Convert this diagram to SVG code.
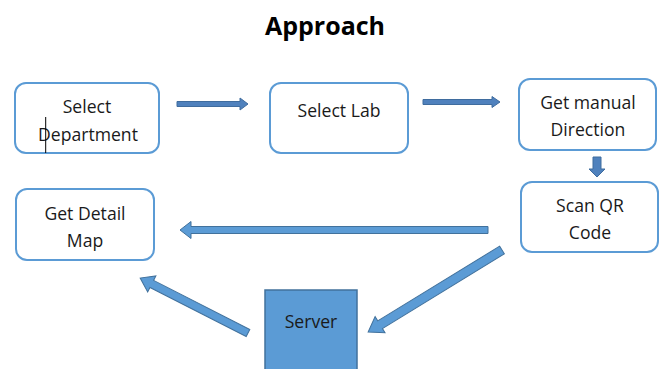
<svg xmlns="http://www.w3.org/2000/svg" width="665" height="369" viewBox="0 0 665 369">
  <style>
    .box { fill: #ffffff; stroke: #5b9bd5; stroke-width: 2; }
    .label { font-family: "Open Sans", "Liberation Sans", sans-serif; font-size: 17.6px; fill: #1a1a1a; text-anchor: middle; }
    .title { font-family: "Open Sans", "Liberation Sans", sans-serif; font-size: 25px; font-weight: bold; fill: #000000; text-anchor: middle; }
    .arrow-dark { fill: #4f81bd; stroke: #3f6c9e; stroke-width: 1; }
    .arrow-light { fill: #5b9bd5; stroke: #41719c; stroke-width: 1; }
    .server { fill: #5b9bd5; stroke: #41719c; stroke-width: 1.5; }
  </style>
  <rect width="665" height="369" fill="#ffffff"/>

  <text class="title" x="325" y="35">Approach</text>

  <g id="select-department">
    <rect class="box" x="15" y="83" width="144" height="70" rx="11"/>
    <text class="label" x="87" y="113">Select</text>
    <text class="label" x="88" y="141">Department</text>
    <line x1="45.7" y1="117" x2="45.7" y2="153" stroke="#000" stroke-width="1"/>
  </g>

  <g id="select-lab">
    <rect class="box" x="270" y="83" width="138" height="70" rx="11"/>
    <text class="label" x="339" y="117">Select Lab</text>
  </g>

  <g id="get-manual-direction">
    <rect class="box" x="519" y="79" width="137" height="71" rx="11"/>
    <text class="label" x="588" y="109">Get manual</text>
    <text class="label" x="588" y="136">Direction</text>
  </g>

  <g id="scan-qr-code">
    <rect class="box" x="521" y="182" width="137" height="70" rx="11"/>
    <text class="label" x="590" y="212">Scan QR</text>
    <text class="label" x="590" y="239">Code</text>
  </g>

  <g id="get-detail-map">
    <rect class="box" x="16" y="189" width="138" height="71" rx="11"/>
    <text class="label" x="85" y="220">Get Detail</text>
    <text class="label" x="85" y="247">Map</text>
  </g>

  <g id="server">
    <rect class="server" x="265" y="290" width="92" height="90"/>
    <text class="label" x="311" y="328" fill="#111">Server</text>
  </g>

  <g id="connectors">
    <!-- Select Department -> Select Lab -->
    <polygon class="arrow-dark" points="177,101.5 240,101.5 240,98 248,104 240,110 240,106.5 177,106.5"/>
    <!-- Select Lab -> Get manual Direction -->
    <polygon class="arrow-dark" points="423,99.5 492,99.5 492,96.5 500,102 492,107.5 492,104.5 423,104.5"/>
    <!-- Get manual Direction -> Scan QR Code -->
    <polygon class="arrow-dark" points="593,157 601,157 601,169 605,169 597,177 589,169 593,169"/>
    <!-- Scan QR Code -> Get Detail Map -->
    <polygon class="arrow-light" points="488,226.5 191,226.5 191,221.5 180,230 191,238.5 191,233.5 488,233.5"/>
    <!-- Scan QR Code -> Server -->
    <polygon class="arrow-light" transform="translate(502,250) rotate(148.5)" points="0,-4.5 143,-4.5 143,-9.5 157,0 143,9.5 143,4.5 0,4.5"/>
    <!-- Server -> Get Detail Map -->
    <polygon class="arrow-light" transform="translate(248,333) rotate(207)" points="0,-4 108,-4 108,-9 121,0 108,9 108,4 0,4"/>
  </g>
</svg>
